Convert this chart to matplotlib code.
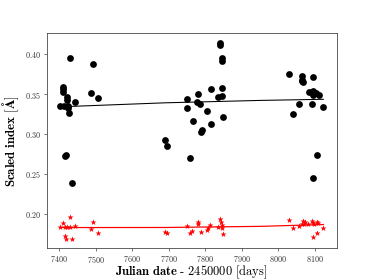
import matplotlib
matplotlib.use("Agg")
import matplotlib.pyplot as plt

plt.rcParams['mathtext.fontset'] = 'cm'
plt.rcParams['font.family'] = 'serif'
plt.rcParams['font.serif'] = ['DejaVu Serif']

# Black circles (upper index)
jd_black = [7430, 7492, 7412, 7412, 7412, 7423, 7423, 7403, 7414, 7425, 7425, 7428, 7444, 7488, 7507, 7416, 7418, 7436,
            7840, 7840.5, 7845, 7846.6, 7816, 7845, 7781, 7750, 7836, 7846.6, 7778, 7785.6, 7749, 7805.5, 7767, 7848,
            7815, 7792, 7787.5, 7690, 7696, 7758,
            8029, 8064, 8065.5, 8068, 8064, 8094, 8084, 8095, 8103, 8110, 8094, 8057, 8092, 8123, 8041, 8105, 8095]
idx_black = [0.3946, 0.3875, 0.359, 0.356, 0.353, 0.3466, 0.3425, 0.335, 0.335, 0.335, 0.332, 0.326, 0.340, 0.351, 0.345,
             0.273, 0.2735, 0.239,
             0.4134, 0.4113, 0.3954, 0.391, 0.356, 0.358, 0.3504, 0.3433, 0.346, 0.3475, 0.3396, 0.338, 0.332, 0.3287,
             0.3167, 0.3213, 0.312, 0.3054, 0.3029, 0.292, 0.285, 0.2696,
             0.3746, 0.3725, 0.368, 0.365, 0.366, 0.371, 0.353, 0.354, 0.351, 0.349, 0.3488, 0.3379, 0.3375, 0.3334,
             0.325, 0.2741, 0.245]

# Red stars (lower index)
jd_red = [7430, 7412, 7403, 7416, 7423, 7430, 7444, 7416, 7419, 7436, 7492, 7488, 7507,
          7690, 7696, 7749, 7779, 7779, 7758, 7764, 7787, 7804, 7808, 7813, 7840, 7843, 7846.6, 7845, 7848, 7835.6,
          8029, 8041, 8057, 8064, 8068, 8073, 8071, 8082, 8092, 8094, 8098, 8105, 8109, 8123, 8105, 8095]
idx_red = [0.1959, 0.1883, 0.1842, 0.184, 0.1833, 0.184, 0.185, 0.1725, 0.169, 0.1688, 0.1904, 0.181, 0.1767,
           0.177, 0.176, 0.1854, 0.190, 0.187, 0.1767, 0.179, 0.178, 0.18, 0.182, 0.186, 0.1937, 0.1904, 0.186,
           0.183, 0.175, 0.184,
           0.1921, 0.183, 0.1854, 0.188, 0.1909, 0.1896, 0.187, 0.1875, 0.191, 0.1884, 0.1875, 0.1904, 0.1884,
           0.1821, 0.1759, 0.171]

# Fitted trends
fit_black_x = [7403, 7690, 7950, 8123]
fit_black_y = [0.334, 0.339, 0.342, 0.3434]
fit_red_x = [7403, 7690, 7950, 8123]
fit_red_y = [0.1830, 0.1831, 0.1845, 0.1868]

xticks = [7400, 7500, 7600, 7700, 7800, 7900, 8000, 8100]
yticks = [0.20, 0.25, 0.30, 0.35, 0.40]
xtick_labels = ['7400', '7500', '7600', '7700', '7800', '7900', '8000', '8100']
ytick_labels = ['0.20', '0.25', '0.30', '0.35', '0.40']

dpi = 374 / 6.4
fig = plt.figure(figsize=(6.4, 280 / dpi), dpi=dpi)
ax = fig.add_subplot(111)
fig.subplots_adjust(left=0.125, right=0.9, bottom=0.113, top=0.881)

ax.scatter(jd_black, idx_black, s=70, c='black', marker='o', linewidths=0, zorder=3)
ax.plot(fit_black_x, fit_black_y, color='black', lw=1.3, zorder=2)
ax.scatter(jd_red, idx_red, s=60, c='red', marker='*', linewidths=0, zorder=3)
ax.plot(fit_red_x, fit_red_y, color='red', lw=1.5, zorder=2)

ax.set_xlim(7366.4, 8159.3)
ax.set_ylim(0.157, 0.4259)
ax.set_xticks(xticks)
ax.set_xticklabels(['$' + t + '$' for t in xtick_labels], fontsize=10)
ax.set_yticks(yticks)
ax.set_yticklabels(['$' + t + '$' for t in ytick_labels], fontsize=10)
ax.tick_params(direction='out', length=4, width=0.8, colors='#333333')
for sp in ax.spines.values():
    sp.set_color('#444444')
    sp.set_linewidth(1.0)

ax.set_xlabel(r'$\mathbf{Julian\ date\ \text{-}}\ \boldsymbol{2450000}\ \mathrm{[days]}$', fontsize=15.5)
ax.xaxis.set_label_coords(0.5, -0.072)
ax.set_ylabel(r'$\mathbf{Scaled\ index}\ \mathbf{[\AA]}$', fontsize=16)
ax.yaxis.set_label_coords(-0.088, 0.5)

fig.savefig('out.png', dpi=dpi)
